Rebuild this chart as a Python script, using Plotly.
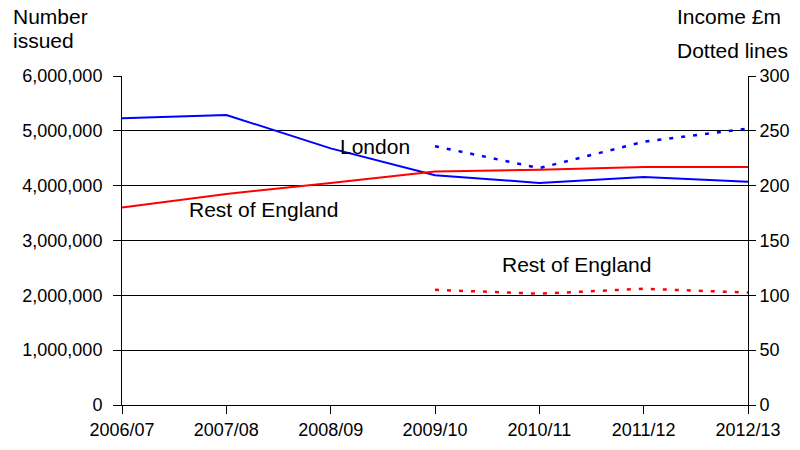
import plotly.graph_objects as go

years = ["2006/07", "2007/08", "2008/09", "2009/10", "2010/11", "2011/12", "2012/13"]
london_issued = [5230000, 5290000, 4680000, 4190000, 4050000, 4160000, 4070000]
rest_issued = [3600000, 3850000, 4050000, 4260000, 4290000, 4340000, 4340000]
income_years = ["2009/10", "2010/11", "2011/12", "2012/13"]
london_income = [236, 216, 240, 252]
rest_income = [105, 101.5, 106, 102.5]

xi = {y: i for i, y in enumerate(years)}
font = "Liberation Sans, Arial, sans-serif"

fig = go.Figure()
fig.add_trace(go.Scatter(x=[xi[y] for y in years], y=london_issued, mode="lines",
                         line=dict(color="#0000FF", width=2), showlegend=False))
fig.add_trace(go.Scatter(x=[xi[y] for y in years], y=rest_issued, mode="lines",
                         line=dict(color="#FF0000", width=2), showlegend=False))
fig.add_trace(go.Scatter(x=[xi[y] for y in income_years], y=london_income, mode="lines", yaxis="y2",
                         line=dict(color="#0000FF", width=2.5, dash="4px,8px"), showlegend=False))
fig.add_trace(go.Scatter(x=[xi[y] for y in income_years], y=rest_income, mode="lines", yaxis="y2",
                         line=dict(color="#FF0000", width=2.5, dash="4px,8px"), showlegend=False))

fig.update_layout(
    width=800, height=450,
    margin=dict(l=122, r=52, t=76, b=45, autoexpand=False),
    paper_bgcolor="white", plot_bgcolor="white",
    font=dict(family=font, size=18, color="black"),
    xaxis=dict(range=[0, 6], tickmode="array", tickvals=list(range(len(years))), ticktext=years,
               showgrid=False, showline=True, linecolor="black", linewidth=1,
               ticks="outside", ticklen=8, tickcolor="black", zeroline=False),
    yaxis=dict(range=[0, 6000000], tickvals=[0, 1000000, 2000000, 3000000, 4000000, 5000000, 6000000],
               tickformat=",d", showgrid=True, gridcolor="black", gridwidth=1,
               showline=True, linecolor="black", linewidth=1, ticks="outside", ticklen=8,
               tickcolor="black", zeroline=False, ticklabelstandoff=7),
    yaxis2=dict(range=[0, 300], tickvals=[0, 50, 100, 150, 200, 250, 300], overlaying="y", side="right",
                showgrid=False, showline=True, linecolor="black", linewidth=1, ticks="outside",
                ticklen=7, tickcolor="black", zeroline=False),
)

pw, ph = 626, 329
def px(x): return (x - 122) / pw
def py(y): return (405 - y) / ph

def note(text, x, y, xanchor="center"):
    fig.add_annotation(text=text, x=px(x), y=py(y), xref="paper", yref="paper",
                       xanchor=xanchor, yanchor="middle", showarrow=False, font=dict(size=21))

note("Number", 11, 17, "left")
note("issued", 11, 40, "left")
note("Income £m", 675, 17, "left")
note("Dotted lines", 675, 51, "left")
note("London", 375, 146)
note("Rest of England", 263, 209)
note("Rest of England", 576, 264)

fig.write_html("out.html", config={"displayModeBar": False},
               post_script="document.body.style.margin='0';")
